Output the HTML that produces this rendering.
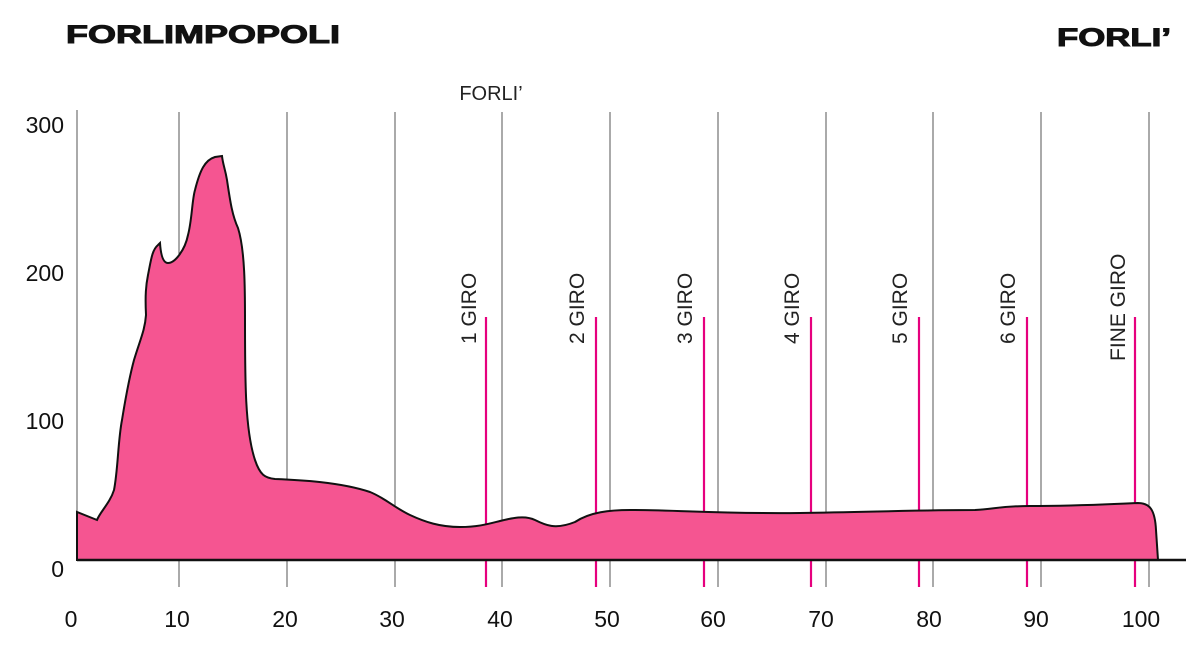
<!DOCTYPE html>
<html><head><style>
body{margin:0;background:#fff;}
svg{display:block;font-family:"Liberation Sans",sans-serif;}
</style></head><body>
<svg width="1198" height="646" viewBox="0 0 1198 646">
<text x="66" y="43" font-size="25" font-weight="900" fill="#111" stroke="#111" stroke-width="1" textLength="274" lengthAdjust="spacingAndGlyphs">FORLIMPOPOLI</text>
<text x="1057" y="46" font-size="25" font-weight="900" fill="#111" stroke="#111" stroke-width="1" textLength="114" lengthAdjust="spacingAndGlyphs">FORLI’</text>
<text x="491" y="100" font-size="20" fill="#222" text-anchor="middle">FORLI’</text>
<g stroke="#555" stroke-width="1">
<line x1="179" y1="112" x2="179" y2="587"/><line x1="287" y1="112" x2="287" y2="587"/>
<line x1="395" y1="112" x2="395" y2="587"/><line x1="502" y1="112" x2="502" y2="587"/>
<line x1="610" y1="112" x2="610" y2="587"/><line x1="718" y1="112" x2="718" y2="587"/>
<line x1="826" y1="112" x2="826" y2="587"/><line x1="933" y1="112" x2="933" y2="587"/>
<line x1="1041" y1="112" x2="1041" y2="587"/><line x1="1149" y1="112" x2="1149" y2="587"/>
<line x1="77" y1="110" x2="77" y2="560"/>
</g>
<g stroke="#e6007e" stroke-width="2.2">
<line x1="486" y1="317" x2="486" y2="587"/><line x1="596" y1="317" x2="596" y2="587"/>
<line x1="704" y1="317" x2="704" y2="587"/><line x1="811" y1="317" x2="811" y2="587"/>
<line x1="919" y1="317" x2="919" y2="587"/><line x1="1027" y1="317" x2="1027" y2="587"/>
<line x1="1135" y1="317" x2="1135" y2="587"/>
</g>
<path d="M77,560 L77,512 L97,520 C100,512 110,503 114,490 C118,470 118,440 122,420 C126,395 130,375 134,360 C140,340 145,330 146,315 C145,295 146,285 148,275 C151,260 152,250 158,245 L160,243 C161,258 164,263 168,263 C175,263 185,250 188,235 C192,220 192,200 195,190 C200,170 205,160 215,157 L222,156 C223,165 225,168 227,180 C230,200 232,215 238,228 C245,250 245,290 245,320 C245,380 245,430 255,460 C260,475 265,478 275,479 C300,480 340,482 370,492 C385,498 395,508 410,515 C425,522 440,527 460,527 C478,527 488,524 500,521 C512,518 525,515 535,520 C545,525 555,530 575,522 C590,512 610,510 630,510 C680,510 720,514 800,513 C870,512 920,510 975,510 C995,509 1000,506 1030,506 C1080,506 1110,504 1138,503 C1150,503 1155,510 1156,530 L1158,560 Z" fill="#f55591" stroke="#111" stroke-width="2"/>
<line x1="77" y1="560" x2="1186" y2="560" stroke="#111" stroke-width="2.5"/>
<g font-size="21" fill="#222">
<text transform="translate(476,344) rotate(-90)">1 GIRO</text>
<text transform="translate(584,344) rotate(-90)">2 GIRO</text>
<text transform="translate(692,344) rotate(-90)">3 GIRO</text>
<text transform="translate(799,344) rotate(-90)">4 GIRO</text>
<text transform="translate(907,344) rotate(-90)">5 GIRO</text>
<text transform="translate(1015,344) rotate(-90)">6 GIRO</text>
<text transform="translate(1125,361) rotate(-90)">FINE GIRO</text>
</g>
<g font-size="23" fill="#111">
<text x="64" y="133" text-anchor="end">300</text>
<text x="64" y="281" text-anchor="end">200</text>
<text x="64" y="429" text-anchor="end">100</text>
<text x="64" y="577" text-anchor="end">0</text>
<g text-anchor="middle">
<text x="71" y="627">0</text><text x="177" y="627">10</text><text x="285" y="627">20</text>
<text x="392" y="627">30</text><text x="500" y="627">40</text><text x="607" y="627">50</text>
<text x="713" y="627">60</text><text x="821" y="627">70</text><text x="929" y="627">80</text>
<text x="1036" y="627">90</text><text x="1141" y="627">100</text>
</g></g>
</svg>
</body></html>
